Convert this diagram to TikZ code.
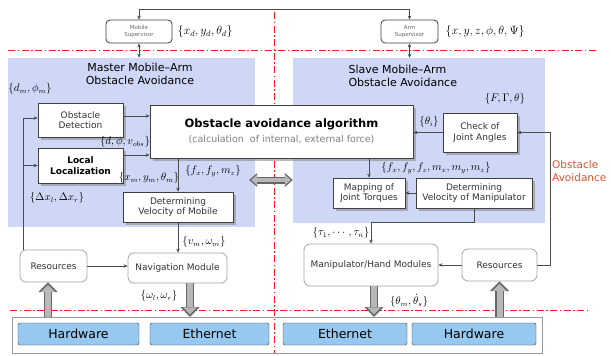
\documentclass[tikz,border=0pt]{standalone}
\usepackage{fontspec}
\setmainfont{DejaVu Sans}
\usepackage{amsmath}
\usetikzlibrary{arrows.meta, positioning, shadows}

\definecolor{panelblue}{RGB}{206,215,246}
\definecolor{netblue}{RGB}{150,200,240}
\definecolor{oared}{RGB}{222,85,45}

\begin{document}
\begin{tikzpicture}[
    x=1pt, y=-1pt,
    panel/.style={rectangle, fill=panelblue, draw=none, inner sep=0pt},
    rbox/.style={rectangle, draw=black!75, fill=white, semithick, inner sep=1pt,
        align=center, text=black!80, font=\fontsize{9}{10.5}\selectfont,
        drop shadow={shadow xshift=2.5pt, shadow yshift=-2.5pt, fill=black!45, opacity=0.6}},
    softbox/.style={rectangle, rounded corners=6pt, draw=black!35, fill=white, thick,
        align=center, text=black!80, font=\fontsize{9}{10.5}\selectfont},
    supbox/.style={rectangle, rounded corners=4pt, draw=black!75, thick, fill=white,
        align=center, text=black!60, font=\fontsize{5.5}{6.5}\selectfont},
    netbox/.style={rectangle, rounded corners=1.5pt, draw=black!75, fill=netblue,
        font=\fontsize{12.5}{14}\selectfont, minimum height=22, inner sep=0pt},
    lbl/.style={inner sep=1pt, font=\fontsize{10.5}{12}\selectfont},
    arr/.style={-{Stealth[length=4pt, width=3.5pt]}, draw=black!70, semithick},
    biarr/.style={{Stealth[length=4pt, width=3.5pt]}-{Stealth[length=4pt, width=3.5pt]}, draw=black!70, semithick},
    bigarrow/.style={draw=black!28, line width=6pt,
        -{Triangle[length=7pt, width=14pt, line width=0pt]}, shorten >=2.4pt,
        preaction={draw=black!60, line width=8.6pt,
            -{Triangle[length=9.6pt, width=19pt, line width=0pt]}, shorten >=0pt}},
    dblarrow/.style={draw=black!28, line width=4.6pt,
        {Triangle[length=5.6pt, width=10pt, line width=0pt]}-{Triangle[length=5.6pt, width=10pt, line width=0pt]},
        shorten >=2pt, shorten <=2pt,
        preaction={draw=black!60, line width=7pt,
            {Triangle[length=8pt, width=14pt, line width=0pt]}-{Triangle[length=8pt, width=14pt, line width=0pt]},
            shorten >=0pt, shorten <=0pt}},
    sepline/.style={draw=red!90, thick, dash pattern=on 7pt off 2.5pt on 1.5pt off 2.5pt},
]

\useasboundingbox[fill=white] (0,0) rectangle (611,356);

% ---- panels and bus ----
\node[panel, minimum width=247, minimum height=169] (mpanel) at (131.5,142.5) {};
\node[panel, minimum width=252, minimum height=165] (spanel) at (419,140.5) {};
\node[draw=black!40, fill=white, minimum width=530, minimum height=36, inner sep=0pt] (bus) at (277,335) {};

\draw[sepline] (274,12) -- (274,353);
\draw[sepline] (8,50) -- (597,50);
\draw[sepline] (10,310) -- (590,310);

% ---- supervisors ----
\node[supbox, minimum width=66, minimum height=23] (msup) at (139,31.5) {Mobile\\Supervisor};
\node[supbox, minimum width=57, minimum height=23] (asup) at (409.5,31.5) {Arm\\Supervisor};
\node[lbl, font=\fontsize{12}{14}\selectfont, right=4pt of msup] (mgoal) {$\{x_d, y_d, \theta_d\}$};
\node[lbl, font=\fontsize{12}{14}\selectfont, right=6pt of asup] (agoal) {$\{x, y, z, \phi, \theta, \Psi\}$};

\draw[biarr] (msup.north) -- ++(0,-10) -| (asup.north);
\draw[biarr] (msup.south) -- (msup.south |- mpanel.north);
\draw[biarr] (asup.south) -- (asup.south |- spanel.north);

% ---- master side ----
\node[font=\fontsize{11}{13}\selectfont, align=center] (mtitle) at (140,74) {Master Mobile--Arm\\Obstacle Avoidance};
\node[lbl] (dm) at (30,89) {$\{d_m, \phi_m\}$};
\node[rbox, minimum width=85, minimum height=34] (od) at (80.5,120) {Obstacle\\Detection};
\node[rbox, minimum width=85, minimum height=35, text=black,
    font=\bfseries\fontsize{9}{11}\selectfont] (ll) at (80.5,165.5) {Local\\Localization};
\node[rbox, minimum width=263, minimum height=53, text=black,
    font=\fontsize{11.5}{15}\selectfont] (algo) at (281.5,131.5)
    {{\bfseries Obstacle avoidance algorithm}\\{\color{black!50}\fontsize{9.5}{11}\selectfont (calculation~ of internal, external force)}};
\node[rbox, minimum width=110, minimum height=30] (dvm) at (178,207) {Determining\\Velocity of Mobile};
\node[softbox, minimum width=99, minimum height=30] (nav) at (177.5,268) {Navigation Module};
\node[softbox, minimum width=67, minimum height=32] (resL) at (53.5,266) {Resources};

\node[lbl] (dpv) at (125,142) {$\{d, \phi, v_{obs}\}$};
\node[lbl] (xyt) at (149,178) {$\{x_m, y_m, \theta_m\}$};
\node[lbl] (dx)  at (57,198) {$\{\Delta x_l, \Delta x_r\}$};
\node[lbl] (fm)  at (213,171) {$\{f_x, f_y, m_z\}$};
\node[lbl] (vw)  at (204,242) {$\{v_m, \omega_m\}$};
\node[lbl] (wlr) at (159,296) {$\{\omega_l, \omega_r\}$};

\draw[arr] ([yshift=4pt]od.east) -- ([yshift=4pt]od.east -| algo.west);
\draw[arr] ([yshift=10.5pt]ll.east) -- ([yshift=10.5pt]ll.east -| algo.west);
\draw[arr] ([xshift=4pt]resL.north west) |- ([yshift=2pt]od.west);
\draw[arr] ([xshift=4pt]resL.north west) |- (ll.west);
\draw[arr] (algo.south -| dvm.north) -- (dvm.north);
\draw[arr] (dvm.south) -- (dvm.south |- nav.north);
\draw[arr] (resL.east) -- (resL.east -| nav.west);

% ---- slave side ----
\node[font=\fontsize{11}{13}\selectfont, align=left, anchor=west] (stitle) at (345,76) {Slave Mobile--Arm\\Obstacle Avoidance};
\node[lbl] (fgt) at (505,99) {$\{F, \Gamma, \theta\}$};
\node[rbox, minimum width=74, minimum height=39] (cja) at (480,132.5) {Check of\\Joint Angles};
\node[lbl] (thi) at (429,122) {$\{\theta_i\}$};
\node[lbl] (fxm) at (436,168) {$\{f_x, f_y, f_z, m_x, m_y, m_z\}$};
\node[rbox, minimum width=72, minimum height=30] (mjt) at (369,193) {Mapping of\\Joint Torques};
\node[rbox, minimum width=116, minimum height=30] (dvman) at (474,193) {Determining\\Velocity of Manipulator};
\node[lbl] (tau) at (341,233) {$\{\tau_1, \cdots, \tau_n\}$};
\node[softbox, minimum width=134, minimum height=42] (mhm) at (371,265) {Manipulator/Hand Modules};
\node[softbox, minimum width=75, minimum height=32] (resR) at (499.5,265) {Resources};
\node[lbl] (ths) at (409,301) {$\{\theta_m, \dot{\theta}_s\}$};
\node[font=\fontsize{10.5}{13}\selectfont, text=oared, align=left, anchor=west, inner sep=1pt] (oa) at (551,171.5) {Obstacle\\Avoidance};

\draw[arr] (cja.west) -- (cja.west -| algo.east);
\draw[arr] (resR.east) -- ++(13,0) |- (cja.east);
\draw[arr] (algo.south -| mjt.north) -- (mjt.north);
\draw[arr] (dvman.west) -- (mjt.east);
\draw[arr] (dvman.south) -- ++(0,14) -| (mhm.north);
\draw[arr] (resR.west) -- (mhm.east |- resR.west);

% ---- hardware / network ----
\node[netbox, minimum width=121] (hwL)  at (78.5,334) {Hardware};
\node[netbox, minimum width=119] (ethL) at (209.5,334) {Ethernet};
\node[netbox, minimum width=124] (ethR) at (345,334) {Ethernet};
\node[netbox, minimum width=124] (hwR)  at (474,334) {Hardware};

\draw[bigarrow] ([xshift=12.5pt]nav.south) -- ([xshift=12.5pt]nav.south |- bus.north);
\draw[bigarrow] ([xshift=-5.5pt]resL.south |- bus.north) -- ([xshift=-5.5pt]resL.south);
\draw[bigarrow] ([xshift=3pt]mhm.south) -- ([xshift=3pt]mhm.south |- bus.north);
\draw[bigarrow] (resR.south |- bus.north) -- (resR.south);
\draw[dblarrow] ([xshift=-6pt, yshift=-37.5pt]mpanel.east) -- ([yshift=-37.5pt]mpanel.east -| spanel.west);

\end{tikzpicture}
\end{document}
